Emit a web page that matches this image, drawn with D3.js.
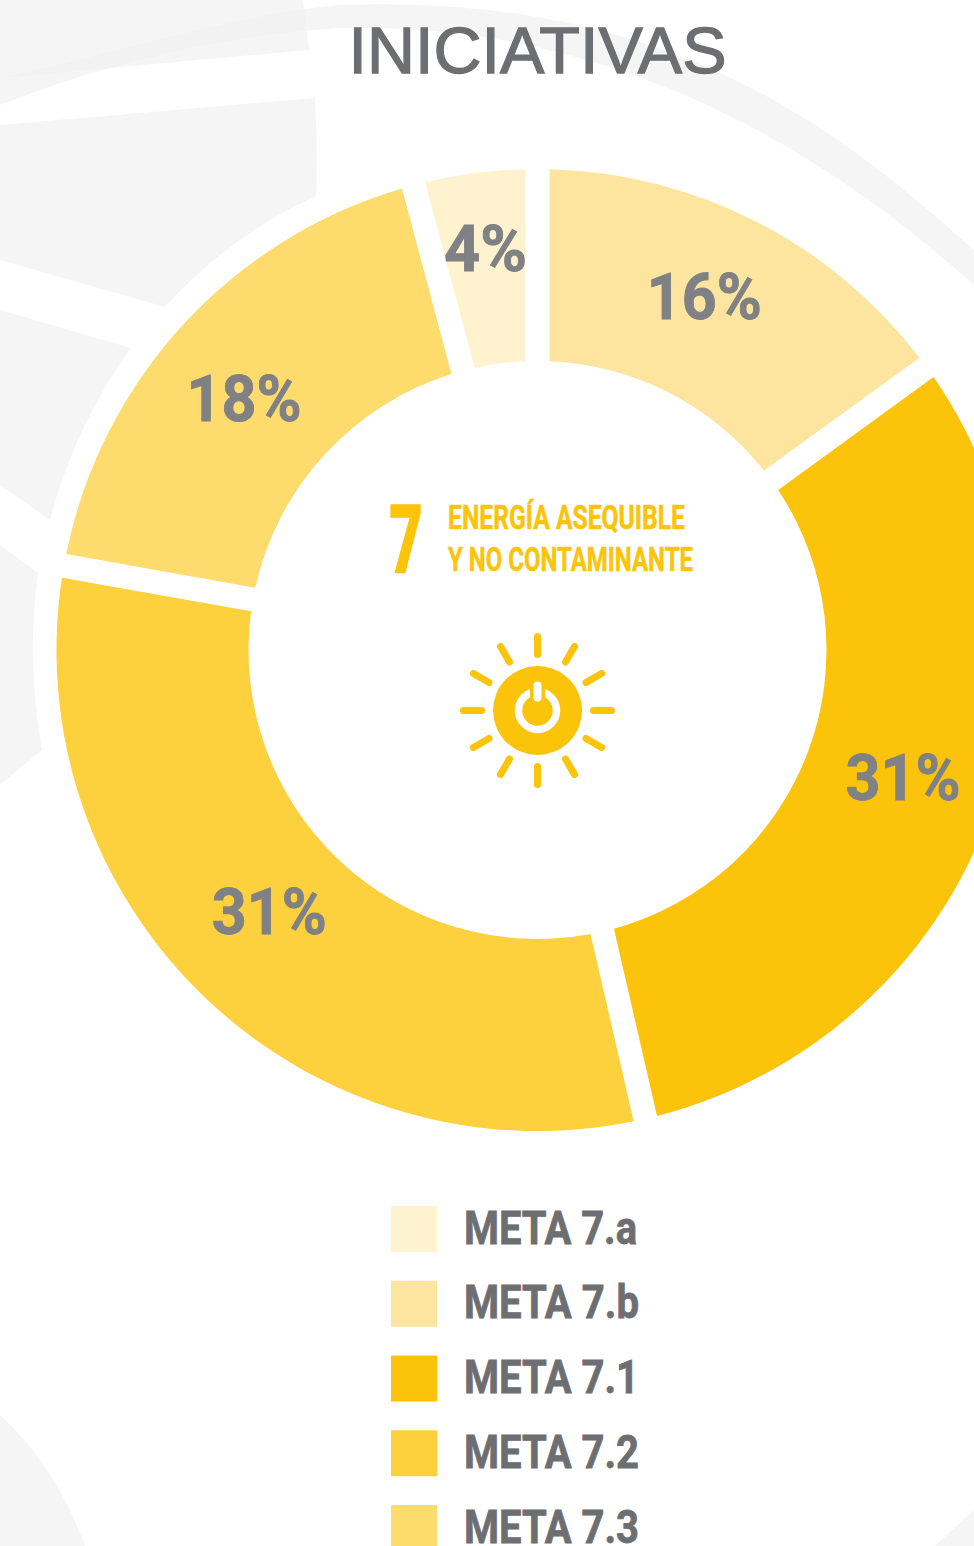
<!DOCTYPE html>
<html><head><meta charset="utf-8">
<script src="https://cdn.jsdelivr.net/npm/d3@7/dist/d3.min.js"></script>
<style>html,body{margin:0;padding:0;background:#fff}svg{display:block}</style>
</head><body><svg id="c" width="974" height="1546"></svg>
<script>
const titleText = "INICIATIVAS";
const sliceNames = ["META 7.b","META 7.1","META 7.2","META 7.3","META 7.a"];
const sliceValues = [15, 31.4, 31.4, 18.05, 4.15];
const sliceLabels = ["16%","31%","31%","18%","4%"];
const sliceColors = ["#fde59f","#fcc30b","#fdd13e","#fddb6d","#fef2cf"];
const legendNames = ["META 7.a","META 7.b","META 7.1","META 7.2","META 7.3"];
const goalLines = ["ENERGÍA ASEQUIBLE","Y NO CONTAMINANTE"];
const W=974,H=1546,cx=537.5,cy=650,R=481,r=289;
const svg=d3.select("#c");
const color=d3.scaleOrdinal(sliceNames,sliceColors);

// background decoration
const topWedge="M0,0L303,0L309,50L0,78Z";
const ring="M0,78C110,55 230,15 340,5C680,-8 850,140 974,250L974,285Q680,20 340,28Q170,38 0,105Z";
const bg=svg.append("g").attr("fill","#f5f5f5");
[topWedge,
 "M0,125L315,98Q318,150 316,196Q230,235 165,307L0,260Z",
 "M0,310L131,348Q75,425 50,520L0,485Z",
 "M0,545L38,573Q26,660 42,750L0,785Z",
 "M0,1415Q55,1465 85,1546L0,1546Z",
 "M935,1546L974,1510L974,1546Z",
 ring
].forEach(d=>bg.append("path").attr("d",d));
svg.append("clipPath").attr("id","topClip").append("path").attr("d",topWedge);
svg.append("path").attr("d",ring).attr("fill","#f2f2f2").attr("clip-path","url(#topClip)");

// donut
const pie=d3.pie().sort(null).value(d=>d.v);
const rows=sliceNames.map((n,i)=>({n,v:sliceValues[i],l:sliceLabels[i]}));
const arcs=pie(rows);
const arc=d3.arc().innerRadius(r).outerRadius(R).padAngle(24/400).padRadius(400);
const g=svg.append("g").attr("transform",`translate(${cx},${cy})`);
g.selectAll("path").data(arcs).join("path").attr("d",arc).attr("fill",d=>color(d.data.n));
const lab=d3.arc().innerRadius(385).outerRadius(385);
const nudge=[[-8,-11],[5,-8],[-3,-18],[-10,8],[-2,-20]];
g.selectAll("text").data(arcs).join("text")
 .attr("transform",(d,i)=>{const c=lab.centroid(d);return `translate(${c[0]+nudge[i][0]},${c[1]+nudge[i][1]})`;})
 .attr("text-anchor","middle").attr("dy","0.36em")
 .attr("font-family","Roboto").attr("font-weight",700).attr("font-size",64)
 .attr("stroke","#808184").attr("stroke-width",0.9)
 .attr("lengthAdjust","spacingAndGlyphs").attr("textLength",d=>d.data.l.length===2?83:115)
 .attr("fill","#808184").text(d=>d.data.l);

// title
svg.append("text").attr("x",537.5).attr("y",73).attr("text-anchor","middle")
 .attr("font-family","Liberation Sans").attr("font-size",65).attr("fill","#6d6e71")
 .attr("stroke","#6d6e71").attr("stroke-width",1.3)
 .attr("lengthAdjust","spacingAndGlyphs").attr("textLength",378).text(titleText);

// centre goal
const yellow="#fcc30b";
svg.append("text").attr("x",406).attr("y",572.5).attr("text-anchor","middle")
 .attr("font-family","Roboto").attr("font-weight",900).attr("font-size",95).attr("fill",yellow)
 .attr("stroke",yellow).attr("stroke-width",1.5)
 .attr("transform","translate(406,0) scale(0.6,1) translate(-406,0)").text("7");
goalLines.forEach((t,i)=>{
 svg.append("text").attr("x",448).attr("y",529+i*42).attr("font-family","Roboto").attr("font-weight",700)
  .attr("font-size",34).attr("fill",yellow).attr("stroke",yellow).attr("stroke-width",0.5)
  .attr("lengthAdjust","spacingAndGlyphs").attr("textLength",i?245:237).text(t);
});
// sun icon
const sx=537.5,sy=710.5;
const sun=svg.append("g").attr("transform",`translate(${sx},${sy})`);
sun.append("circle").attr("r",44.5).attr("fill",yellow);
sun.append("circle").attr("r",19).attr("fill","none").attr("stroke","#fff").attr("stroke-width",7.5);
sun.append("line").attr("x1",0).attr("x2",0).attr("y1",-31).attr("y2",-7).attr("stroke",yellow).attr("stroke-width",15);
sun.append("line").attr("x1",0).attr("x2",0).attr("y1",-25).attr("y2",-13).attr("stroke","#fff").attr("stroke-width",8).attr("stroke-linecap","round");
d3.range(12).forEach(i=>{
 const a=i*Math.PI/6;
 sun.append("line").attr("x1",Math.sin(a)*56).attr("y1",-Math.cos(a)*56)
  .attr("x2",Math.sin(a)*74).attr("y2",-Math.cos(a)*74)
  .attr("stroke",yellow).attr("stroke-width",7).attr("stroke-linecap","round");
});

// legend
const ly=d3.scalePoint().domain(legendNames).range([1229,1528]);
const leg=svg.append("g").selectAll("g").data(legendNames).join("g")
 .attr("transform",d=>`translate(0,${ly(d)})`);
leg.append("rect").attr("x",391).attr("y",-23).attr("width",46).attr("height",46).attr("fill",d=>color(d));
leg.append("text").attr("x",464).attr("y",14.5).attr("font-family","Roboto").attr("font-weight",700)
 .attr("font-size",47).attr("fill","#6d6e71").attr("stroke","#6d6e71").attr("stroke-width",0.8)
 .attr("lengthAdjust","spacingAndGlyphs")
 .attr("textLength",d=>d==="META 7.a"?173:175).text(d=>d);
</script></body></html>
